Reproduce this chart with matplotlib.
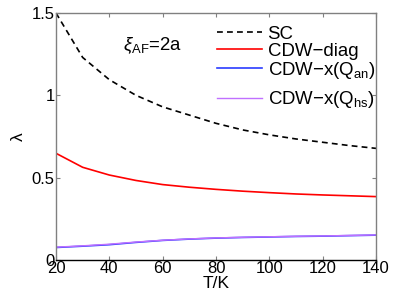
import matplotlib
matplotlib.use("Agg")
import matplotlib.pyplot as plt

plt.rcParams["font.family"] = ["Liberation Sans", "DejaVu Sans"]
plt.rcParams["mathtext.fontset"] = "custom"
plt.rcParams["mathtext.rm"] = "Liberation Sans"
plt.rcParams["mathtext.it"] = "Liberation Sans:italic"

# temperature grid (K)
temps = [20, 30, 40, 50, 60, 70, 80, 90, 100, 110, 120, 130, 140]

# eigenvalues
lam_sc = [1.50, 1.23, 1.095, 1.00, 0.93, 0.88, 0.83, 0.79, 0.76, 0.735, 0.715, 0.695, 0.678]
lam_cdw_diag = [0.648, 0.563, 0.516, 0.483, 0.458, 0.442, 0.429, 0.418, 0.409, 0.401, 0.395, 0.390, 0.385]
lam_cdw_an = [0.076, 0.084, 0.093, 0.107, 0.119, 0.127, 0.133, 0.137, 0.140, 0.143, 0.145, 0.148, 0.151]
lam_cdw_hs = [0.078, 0.086, 0.096, 0.109, 0.120, 0.128, 0.134, 0.138, 0.141, 0.144, 0.146, 0.149, 0.152]

xticks = [20, 40, 60, 80, 100, 120, 140]
yticks = [0, 0.5, 1, 1.5]
ytick_labels = ["0", "0.5", "1", "1.5"]

fig = plt.figure(figsize=(3.95, 3.02), dpi=100)
ax = fig.add_axes([56 / 395, 1 - 260 / 302, 320 / 395, 247 / 302])

l_sc, = ax.plot(temps, lam_sc, color="k", lw=1.2, linestyle=(0, (3.5, 2.5)), label="SC")
l_diag, = ax.plot(temps, lam_cdw_diag, color="red", lw=1.2, label="CDW\u2212diag")
l_an, = ax.plot(temps, lam_cdw_an, color="#2a3cff", lw=1.2, label=r"CDW$-$x(Q$_{\rm an}$)")
l_hs, = ax.plot(temps, lam_cdw_hs, color="#c070ff", lw=1.0, label=r"CDW$-$x(Q$_{\rm hs}$)")

ax.set_xlim(20, 140)
ax.set_ylim(0, 1.5)
ax.set_xticks(xticks)
ax.set_yticks(yticks)
ax.set_yticklabels(ytick_labels)
ax.tick_params(direction="in", length=3, width=0.8, color="#808080",
               labelsize=12, top=True, right=True, pad=1)

for side in ["left", "top", "right"]:
    ax.spines[side].set_color("#808080")
ax.spines["bottom"].set_color("black")
for s in ax.spines.values():
    s.set_linewidth(1.0)

ax.set_xlabel("T/K", fontsize=12.5, labelpad=0)
ax.set_ylabel("\u03bb", fontsize=12.5, labelpad=4)

ax.text(45, 1.30, r"$\xi_{\rm AF}$=2a", fontsize=13.4, va="center", ha="left")

leg_kw = dict(frameon=False, fontsize=13.4, handlelength=2.4, handletextpad=0.32,
              borderpad=0, borderaxespad=0)
leg1 = ax.legend(handles=[l_sc, l_diag, l_an], loc="upper left",
                 bbox_to_anchor=(0.503, 0.948), labelspacing=0.0, **leg_kw)
ax.add_artist(leg1)
ax.legend(handles=[l_hs], loc="center left", bbox_to_anchor=(0.503, 0.648), **leg_kw)

fig.savefig("out.png", dpi=100)
